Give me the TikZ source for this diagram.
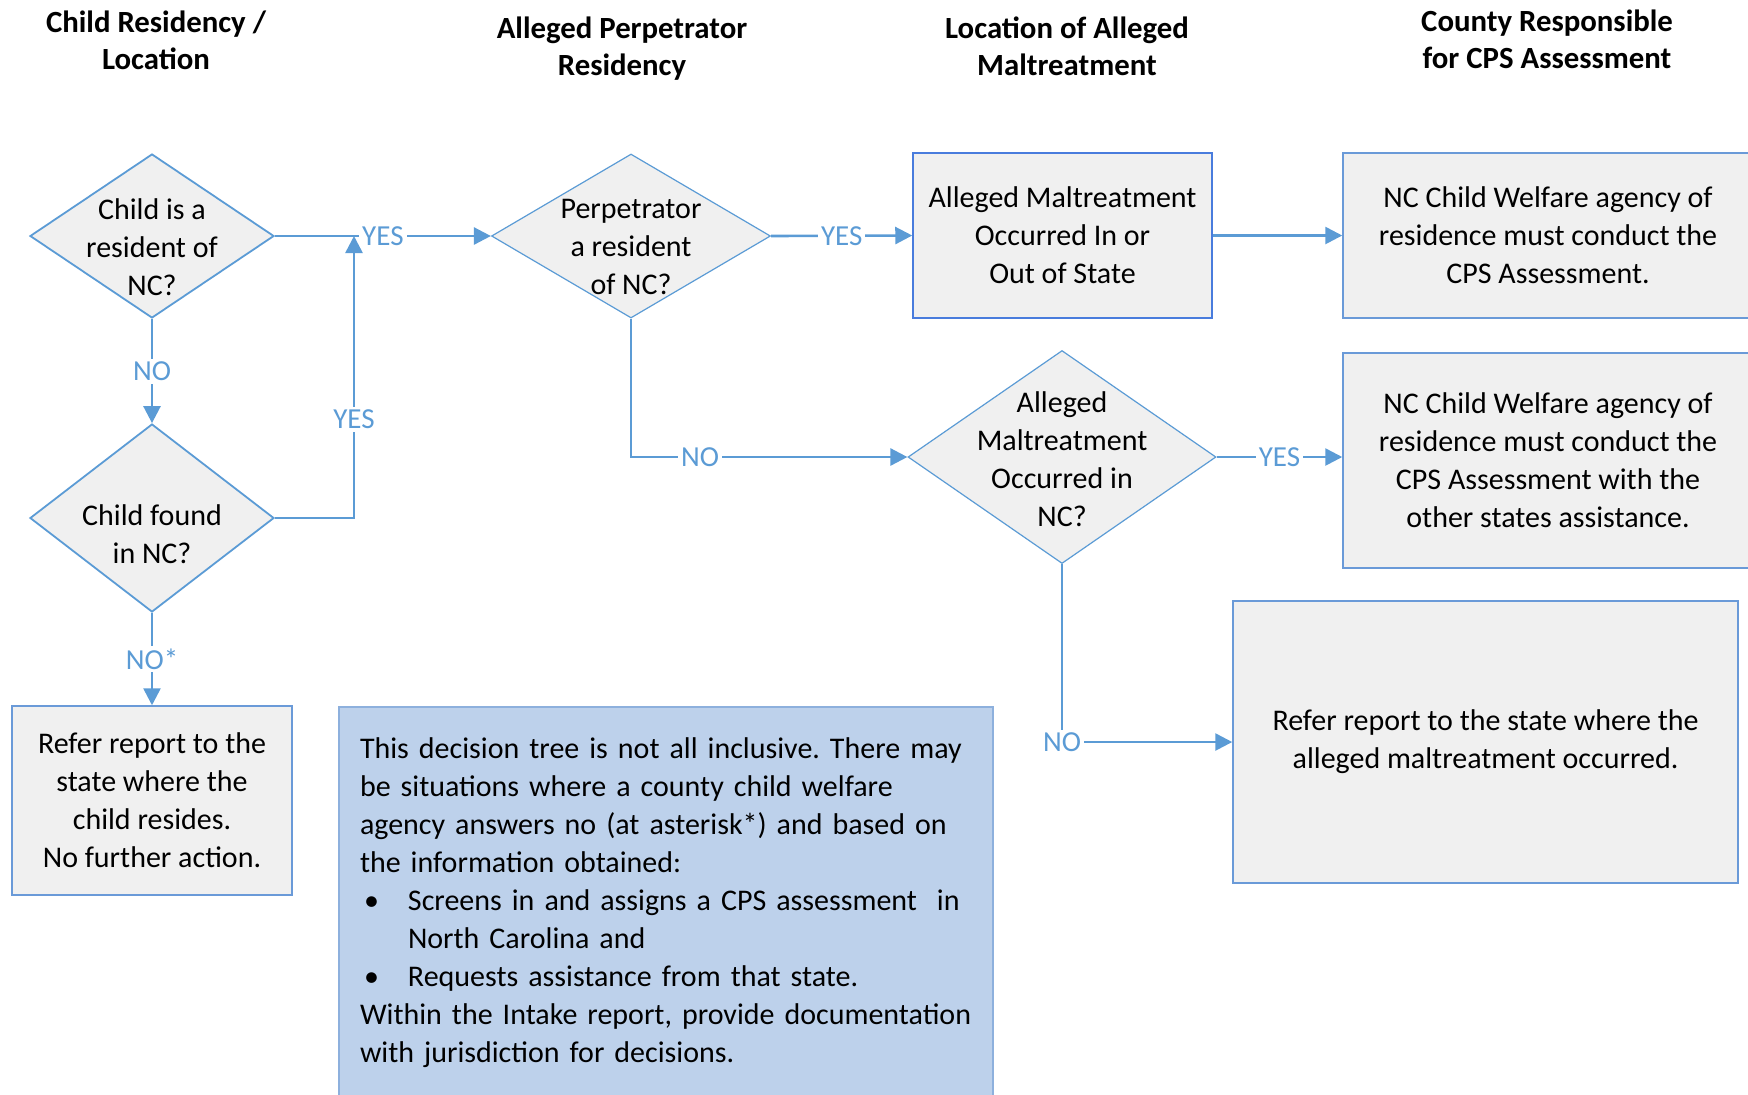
\documentclass[tikz,border=0pt]{standalone}
\usepackage{fontspec}
\setmainfont{Carlito}
\usetikzlibrary{shapes.geometric,arrows.meta}
\definecolor{lblue}{HTML}{5B9BD5}
\definecolor{bborder}{HTML}{6A9AD8}
\definecolor{grayfill}{HTML}{F0F0F0}
\definecolor{notefill}{HTML}{BDD1EB}
\definecolor{noteborder}{HTML}{8DB0DD}
\newcommand{\bodyfont}{\fontsize{15}{19}\selectfont}
\newcommand{\labfont}{\fontsize{14.5}{16}\selectfont}
\newcommand{\hdrfont}{\fontsize{15.4}{18.5}\selectfont}
\frenchspacing
\begin{document}
\begin{tikzpicture}[x=0.5pt,y=-0.5pt,
  dia/.style={diamond, draw=lblue, fill=grayfill, line width=0.9pt, inner sep=0pt},
  diathin/.style={dia, line width=0.6pt},
  box/.style={rectangle, draw=bborder, fill=grayfill, line width=0.75pt, align=center, font=\bodyfont, inner sep=0pt},
  txt/.style={align=center, font=\bodyfont, inner sep=0pt},
  conn/.style={draw=lblue, line width=1.3pt, -{Triangle[length=8.5pt,width=8.5pt]}},
  lab/.style={fill=white, text=lblue, inner sep=1.5pt, font=\labfont},
  hdr/.style={align=center, font=\bfseries\hdrfont}]
\useasboundingbox (0,0) rectangle (1748,1094);

% headers
\node[hdr] (h1) at (156,40) {Child Residency /\\Location};
\node[hdr] (h2) at (622,49) {Alleged Perpetrator\\Residency};
\node[hdr] (h3) at (1067,46) {Location of Alleged\\Maltreatment};
\node[hdr] (h4) at (1547,39) {County Responsible\\for CPS Assessment};

% diamonds
\node[dia, minimum width=122pt, minimum height=82pt] (d1) at (152,236) {};
\node[txt] (d1t) at (152,247) {Child is a\\resident of\\NC?};
\node[dia, minimum width=122pt, minimum height=94pt] (d2) at (152,518) {};
\node[txt] (d2t) at (152,534) {Child found\\in NC?};
\node[diathin, minimum width=139.5pt, minimum height=82pt] (d3) at (631,236) {};
\node[txt] (d3t) at (631,247) {Perpetrator\\a resident\\of NC?};
\node[diathin, minimum width=154pt, minimum height=106.5pt] (d4) at (1062,457) {};
\node[txt] (d4t) at (1062,459) {Alleged\\Maltreatment\\Occurred in\\NC?};

% boxes
\node[box, draw=lblue!80!blue, minimum width=149.5pt, minimum height=82.5pt] (b1) at (1062.5,235.5) {Alleged Maltreatment\\Occurred In or\\Out of State};
\node[box, minimum width=205pt, minimum height=82.5pt] (b2) at (1548,235.5) {NC Child Welfare agency of\\residence must conduct the\\CPS Assessment.};
\node[box, minimum width=205pt, minimum height=107.5pt] (b3) at (1548,460.5) {NC Child Welfare agency of\\residence must conduct the\\CPS Assessment with the\\other states assistance.};
\node[box, minimum width=140pt, minimum height=94.5pt] (r1) at (152,800.5) {Refer report to the\\state where the\\child resides.\\No further action.};
\node[box, minimum width=252.5pt, minimum height=141pt] (r2) at (1485.5,742) {Refer report to the state where the\\alleged maltreatment occurred.};
\node[rectangle, draw=noteborder, fill=notefill, line width=0.75pt, minimum width=327pt, minimum height=201.5pt] (note) at (666,908.5) {};
\node[font=\bodyfont, align=left, text width=307pt, inner sep=0pt] (notet) at (667,903) {This decision tree is not all inclusive. There may\\
be situations where a county child welfare\\
agency answers no (at asterisk*) and based on\\
the information obtained:\\
\makebox[24pt][l]{\hspace*{2pt}•}Screens in and assigns a CPS assessment\ \ in\\
\hspace*{24pt}North Carolina and\\
\makebox[24pt][l]{\hspace*{2pt}•}Requests assistance from that state.\\
Within the Intake report, provide documentation\\
with jurisdiction for decisions.};

% connectors
\coordinate (j) at (354,236);
\draw[conn] (d1.east) -- node[lab]{YES} (d3.west);
\draw[conn] (d2.east) -| node[lab, pos=0.675]{YES} (j);
\draw[conn] (d1.south) -- node[lab]{NO} (d2.north);
\draw[conn] (d2.south) -- node[lab]{NO*} (r1.north);
\draw[conn] (d3.east) -- node[lab]{YES} (b1.west);
\draw[conn] (b1.east) -- (b2.west);
\draw[conn] (d3.south) |- node[lab, pos=0.625]{NO} (d4.west);
\draw[conn] (d4.east) -- node[lab]{YES} (d4.east -| b3.west);
\draw[conn] (d4.south) |- node[lab]{NO} (r2.west);
\end{tikzpicture}
\end{document}
